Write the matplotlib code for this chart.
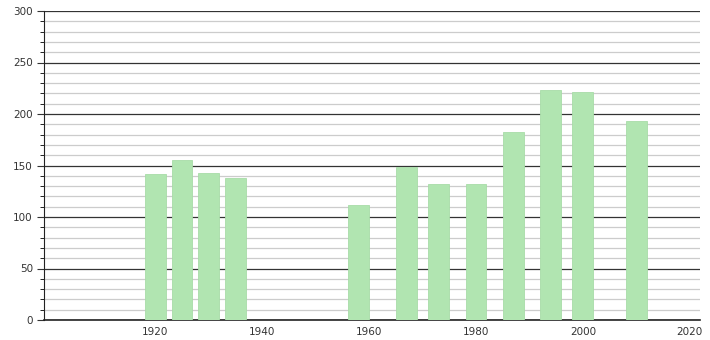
import matplotlib.pyplot as plt
from matplotlib.ticker import MultipleLocator

# Data
years = [1920, 1925, 1930, 1935, 1958, 1967, 1973, 1980, 1987, 1994, 2000, 2010]
population = [142, 155, 143, 138, 112, 149, 132, 132, 183, 223, 221, 193]
xtick_years = [1920, 1940, 1960, 1980, 2000, 2020]

fig = plt.figure(figsize=(7.1, 3.4), dpi=100)
ax = fig.add_axes([44 / 710, 20 / 340, 656 / 710, 309 / 340])

ax.bar(years, population, width=3.9, color='#b1e5b1', edgecolor='#a8dca8', linewidth=0.6, zorder=3)

ax.set_xlim(1899.2, 2021.9)
ax.set_ylim(0, 300)
ax.set_xticks(xtick_years)
ax.yaxis.set_major_locator(MultipleLocator(50))
ax.yaxis.set_minor_locator(MultipleLocator(10))

ax.grid(axis='y', which='major', color='#333333', linewidth=0.9, zorder=1)
ax.grid(axis='y', which='minor', color='#cccccc', linewidth=0.9, zorder=1)

for side in ['top', 'right']:
    ax.spines[side].set_visible(False)
ax.spines['left'].set_color('#222222')
ax.spines['bottom'].set_color('#222222')
ax.spines['bottom'].set_linewidth(1.2)

ax.tick_params(axis='x', length=0, labelsize=7.5, colors='#333333', pad=5)
ax.tick_params(axis='y', which='major', length=5, labelsize=7.5, colors='#333333', pad=3)
ax.tick_params(axis='y', which='minor', length=3)

fig.savefig('out.png', dpi=100)
